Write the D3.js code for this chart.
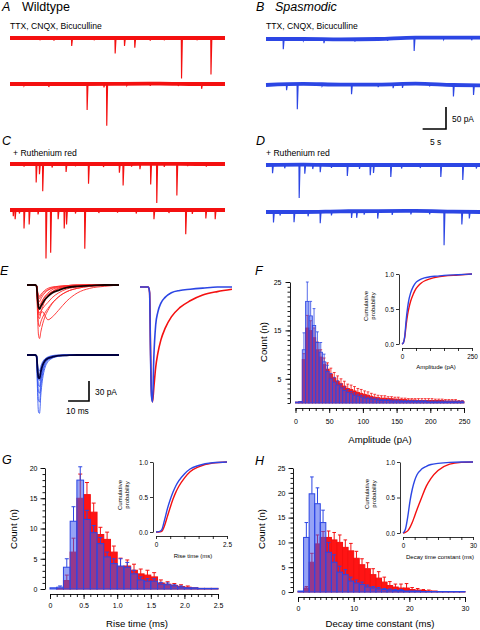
<!DOCTYPE html>
<html>
<head>
<meta charset="utf-8">
<script src="https://cdn.jsdelivr.net/npm/d3@7"></script>
<style>
html,body{margin:0;padding:0;background:#fff;}
svg{display:block;}
</style>
</head>
<body>
<svg id="fig" width="480" height="630"></svg>
<script>
// ================= DATA =================
// Panels A-D : baseline drift (pA) at driftTimes (s) and events [time s, amplitude pA]
const traceSpan = [0, 46];
const driftTimes = [0, 8, 16, 24, 32, 40, 46];
const driftA1 = [0, 0, 0, 0, 0, 0, 0];
const driftA2 = [0, 0, 0, 0.5, 1, 0, 0];
const driftB1 = [0, 0, -1, 0, 3, 3, 3];
const driftB2 = [0, 2.5, 1, 1, 3, 0, -1];
const driftC1 = [0, 0, 0, 0, 0.5, 0, 0];
const driftC2 = [0, 0, 0, 0, 0, 0, 0];
const driftD1 = [0, 1, 0, 0, 0, 0, 0];
const driftD2 = [0, 0, 1.5, 2, 2.5, 1, 0];

const eventsA1 = [[6.4,5],[9.4,6],[13.2,18],[18,5],[22.5,35],[24.5,18],[26.7,22],[30,6],[33,5],[36.7,92],[40,5],[43.0,83]];
const eventsA2 = [[3,4],[8.3,7],[16.5,59],[20.1,8],[20.7,95],[25,4],[30,5],[36,5],[41.0,11]];
const eventsB1 = [[3.7,23],[8,4],[12.4,9],[19,5],[26,5],[31.7,30],[38,4],[44,6]];
const eventsB2 = [[4.4,13],[6.7,57],[12,4],[18.3,22],[24,6],[27.2,9],[29.2,9],[35,5],[40.1,26],[44.4,22]];
const eventsC1 = [[3,6],[5.6,42],[6.3,23],[7.0,62],[9,8],[12.0,18],[14,5],[16.8,45],[20,7],[23.4,20],[24.2,49],[26,6],[27.8,12],[30.1,47],[31.4,89],[33,7],[35.7,72],[38,5],[42,6]];
const eventsC2 = [[0.7,14],[1.1,21],[2,8],[3.0,42],[4.1,33],[6,10],[7.7,110],[8.7,97],[10.3,21],[11.6,42],[12.1,33],[14,8],[16.0,88],[19,7],[23,6],[27,8],[30.8,21],[34,7],[37.6,55],[39,9],[41.9,19],[43.9,21]];
const eventsD1 = [[1.4,19],[4,8],[7.1,76],[8.3,21],[10,10],[11.6,17],[14,7],[17.4,25],[20,9],[22.3,23],[23.0,18],[26.7,27],[29,8],[33,7],[37.4,27],[42.1,34],[45,8]];
const eventsD2 = [[1.6,24],[3,8],[6.0,23],[9,10],[11.6,26],[14,9],[18.3,15],[19.4,15],[21,8],[23.9,17],[27,9],[31,8],[35,7],[38.1,77],[41.9,29],[43.5,15]];

// Panel E : averaged miniature currents (pA) sampled at eTimes (ms)
const eTimes = [0, 4.0, 4.6, 5.0, 5.5, 6.0, 6.6, 7.5, 8.5, 10, 12, 15, 19, 24, 30, 37, 44];
const redMinis = [
  [0,0,-4,-40,-75,-80,-70,-58,-48,-38,-28,-18,-10,-5,-2,-1,0],
  [0,0,-3,-30,-58,-62,-55,-48,-42,-35,-27,-18,-10,-5,-2,0,0],
  [0,0,-3,-28,-48,-50,-42,-32,-24,-16,-10,-5,-2,-1,0,0,0],
  [0,0,-2,-20,-40,-45,-42,-40,-45,-52,-48,-38,-24,-12,-5,-2,0],
  [0,0,-2,-20,-38,-42,-39,-35,-31,-26,-19,-12,-6,-3,-1,0,0],
  [0,0,-2,-18,-32,-35,-30,-23,-17,-12,-7,-4,-2,-1,0,0,0],
  [0,0,-2,-15,-27,-30,-27,-22,-18,-14,-10,-6,-3,-1,0,0,0],
  [0,0,-1,-12,-22,-25,-21,-16,-12,-8,-5,-3,-1,0,0,0,0],
  [0,0,-1,-10,-18,-20,-17,-13,-10,-7,-4,-2,-1,0,0,0,0],
  [0,0,-1,-8,-15,-17,-14,-11,-8,-5,-3,-2,-1,0,0,0,0]
];
const redMean = [0,0,-2,-18,-33,-36,-32,-27,-22,-17,-12,-8,-4,-2,-1,0,0];
const blueMinis = [
  [0,0,-5,-50,-85,-87,-60,-35,-20,-10,-5,-2,-1,0,0,0,0],
  [0,0,-4,-40,-68,-70,-48,-28,-16,-8,-4,-2,0,0,0,0,0],
  [0,0,-3,-32,-55,-57,-40,-24,-13,-7,-3,-1,0,0,0,0,0],
  [0,0,-3,-26,-45,-47,-34,-20,-11,-6,-3,-1,0,0,0,0,0],
  [0,0,-2,-20,-36,-38,-27,-16,-9,-5,-2,-1,0,0,0,0,0],
  [0,0,-2,-16,-28,-30,-22,-13,-7,-4,-2,-1,0,0,0,0,0],
  [0,0,-1,-12,-22,-24,-17,-10,-6,-3,-1,0,0,0,0,0,0]
];
const blueMean = [0,0,-2,-20,-34,-35,-25,-15,-9,-5,-3,-1,-0.5,0,0,0,0];
const redScaled  = [0,0,-0.05,-0.5,-0.92,-1,-0.88,-0.7,-0.58,-0.46,-0.36,-0.26,-0.18,-0.12,-0.07,-0.04,-0.02];
const blueScaled = [0,0,-0.05,-0.55,-0.95,-1,-0.62,-0.33,-0.22,-0.14,-0.09,-0.05,-0.03,-0.02,-0.01,0,0];

// Panel F : amplitude histogram, 5 pA bins from 0 to 250
const ampRed = [0.2,0.3,9,15.5,15,13.5,11,9.5,8,7,6,5.2,4.5,4,3.5,3,2.8,2.5,2.2,2,1.8,1.6,1.4,1.2,1.1,1.0,1.0,0.9,0.9,0.8,0.8,0.7,0.7,0.6,0.6,0.6,0.5,0.5,0.5,0.5,0.5,0.5,0.5,0.5,0.4,0.4,0.4,0.4,0.3,0.3];
const ampRedErr = [0,0,1.2,2.6,2,2,1.6,1.5,1.3,1.3,1.2,1.1,1.1,1.0,1.0,0.9,0.9,0.9,0.8,0.8,0.7,0.7,0.6,0.6,0.5,0.5,0.5,0.4,0.4,0.4,0.4,0.3,0.3,0.3,0.3,0.3,0.4,0.4,0.4,0.4,0.4,0.3,0.3,0.3,0.3,0.3,0.3,0.3,0.2,0.2];
const ampBlue = [0.2,0.3,11,21,18,16,12.5,10.5,8.5,6.5,5,4.3,3.7,3.1,2.6,2.2,1.9,1.6,1.4,1.2,1.0,0.9,0.8,0.7,0.6,0.5,0.5,0.5,0.4,0.4,0.4,0.3,0.3,0.3,0.3,0.3,0.3,0.3,0.3,0.2,0.2,0.2,0.2,0.2,0.2,0.2,0.2,0.2,0.2,0.2];
const ampBlueErr = [0,0,3.5,4,3,3.5,2.2,2,1.6,1.3,1.1,1,0.9,0.8,0.7,0.6,0.5,0.5,0.4,0.4,0.4,0.3,0.3,0.3,0.3,0.2,0.2,0.2,0.2,0.2,0.2,0.2,0.2,0.2,0.2,0.2,0.2,0.2,0.2,0.2,0.2,0.2,0.2,0.2,0.2,0.2,0.2,0.2,0.2,0.2];
const ampCumX = [0,5,10,15,20,25,30,40,50,60,70,80,100,125,150,200,250];
const ampCumBlue = [0,0.02,0.12,0.35,0.52,0.64,0.72,0.82,0.88,0.91,0.93,0.945,0.96,0.97,0.98,0.99,1];
const ampCumRed  = [0,0.02,0.1,0.28,0.42,0.52,0.6,0.71,0.79,0.84,0.875,0.9,0.93,0.955,0.97,0.985,1];

// Panel G : rise time histogram, 0.1 ms bins from 0 to 2.5
const riseRed = [0,0.1,1.4,6.1,15,15.6,12.7,9,8.2,6.1,3.7,3.8,3.1,2.5,2.3,2.0,1.0,0.8,0.6,0.4,0.3,0.2,0.1,0.1,0.1];
const riseRedErr = [0,0.1,0.9,2.3,4,2,1.5,1.2,1.2,1.0,1.4,1.0,1.0,0.8,0.8,0.7,0.5,0.4,0.3,0.3,0.2,0.1,0.1,0.1,0.1];
const riseBlue = [0.2,0.3,3.6,11.2,18,11.5,9.3,7.5,5.3,4.2,3.8,3.6,2.5,1.5,1.3,1.3,0.8,0.7,0.5,0.3,0.2,0.2,0.1,0.1,0.1];
const riseBlueErr = [0.1,0.2,1.4,2.4,2.2,1.5,1.2,1.0,0.8,0.8,1.2,0.8,0.6,0.5,0.4,0.4,0.3,0.3,0.2,0.2,0.1,0.1,0.1,0.1,0.1];
const riseCumX = [0,0.1,0.2,0.3,0.4,0.5,0.6,0.7,0.8,1.0,1.2,1.5,2.0,2.5];
const riseCumBlue = [0,0.005,0.03,0.17,0.33,0.46,0.57,0.66,0.73,0.83,0.9,0.95,0.99,1];
const riseCumRed  = [0,0,0.01,0.09,0.22,0.35,0.47,0.57,0.65,0.77,0.86,0.93,0.985,1];

// Panel H : decay time constant histogram, 1 ms bins from 0 to 30
const decayRed = [0.1,0.8,6,9.7,11,11,10.5,10,9,8.3,6.8,5.5,4.7,3.5,2.8,2.0,1.3,1.0,0.8,0.8,0.5,0.4,0.3,0.2,0.2,0.1,0.1,0.1,0.1,0.1];
const decayRedErr = [0.1,0.3,1.8,1.8,1.2,1.3,1.5,1.5,1.5,1.5,1.4,1.2,1.2,1.2,1.3,1.0,0.8,0.6,0.8,0.9,0.4,0.3,0.2,0.2,0.1,0.1,0.1,0.1,0.1,0.1];
const decayBlue = [0.2,11,19.8,17.8,14,8,6,4,3.5,2.2,1.8,1.5,1,0.8,0.6,0.5,0.4,0.3,0.3,0.2,0.2,0.2,0.1,0.1,0.1,0.1,0.1,0.1,0.1,0.1];
const decayBlueErr = [0.1,3,3.4,3.2,2.5,2,1.5,1.2,1.0,0.8,0.6,0.5,0.4,0.3,0.3,0.2,0.2,0.2,0.2,0.1,0.1,0.1,0.1,0.1,0.1,0.1,0.1,0.1,0.1,0.1];
const decayCumX = [0,1,2,3,4,5,6,8,10,12,15,20,25,30];
const decayCumBlue = [0,0.05,0.22,0.45,0.62,0.74,0.82,0.9,0.94,0.965,0.98,0.995,1,1];
const decayCumRed  = [0,0.01,0.03,0.08,0.15,0.24,0.33,0.5,0.66,0.77,0.88,0.97,0.995,1];

// Tick labels
const ampYTicks = [5, 15, 25];
const ampXTicks = [0, 50, 100, 150, 200, 250];
const riseYTicks = [0, 5, 10, 15, 20];
const riseXTicks = [0, 0.5, 1.0, 1.5, 2.0, 2.5];
const riseXLabels = ['0', '0.5', '1.0', '1.5', '2.0', '2.5'];
const decayYTicks = [0, 5, 10, 15, 20, 25];
const decayXTicks = [0, 10, 20, 30];
const cumYTicks = [0, 0.5, 1];
const cumYLabels = ['0.0', '0.5', '1.0'];

// ================= DRAWING =================
const svg = d3.select('#fig');
const FONT = '"Liberation Sans", Arial, Helvetica, sans-serif';
const RED = '#f41010', BLUE = '#2c46e4';
const RED_FILL = '#ff1414', BLUE_FILL = 'rgba(62,88,238,0.55)';

function label(x, y, s, size, o = {}) {
  const t = svg.append('text').attr('x', x).attr('y', y).text(s)
    .attr('font-family', FONT).attr('font-size', size).attr('fill', '#000');
  if (o.italic) t.attr('font-style', 'italic');
  if (o.anchor) t.attr('text-anchor', o.anchor);
  if (o.rotate) t.attr('transform', `rotate(-90 ${x} ${y})`);
  return t;
}

// ---- Panels A-D traces ----
function drawTrace(x0, x1, y0, drift, events, color) {
  const xs = d3.scaleLinear().domain(traceSpan).range([x0, x1]);
  const ys = d3.scaleLinear().domain([0, -100]).range([y0, y0 + 44]);
  const base = d3.scaleLinear().domain(driftTimes).range(drift);
  const g = svg.append('g');
  const ln = d3.line().x(d => xs(d[0])).y(d => ys(d[1]));
  events.forEach(([t, a]) => {
    const b = base(t);
    g.append('path')
      .attr('d', ln([[t - 0.05, b], [t, b - a], [t + 0.18, b]]))
      .attr('fill', 'none').attr('stroke', color).attr('stroke-width', 1.15);
  });
  g.append('path').datum(driftTimes.map((t, i) => [t, drift[i]]))
    .attr('d', ln.curve(d3.curveMonotoneX))
    .attr('fill', 'none').attr('stroke', color).attr('stroke-width', 3.8);
  return { xs, ys };
}

label(2, 11, 'A', 12.5, { italic: true });
label(22, 11, 'Wildtype', 12.5);
label(10, 29, 'TTX, CNQX, Bicuculline', 8.6);
drawTrace(10, 225, 38, driftA1, eventsA1, RED);
drawTrace(10, 225, 84, driftA2, eventsA2, RED);

label(256, 11, 'B', 12.5, { italic: true });
label(275, 11, 'Spasmodic', 12.5, { italic: true });
label(266, 29, 'TTX, CNQX, Bicuculline', 8.6);
const tb = drawTrace(266, 481, 39, driftB1, eventsB1, BLUE);
drawTrace(266, 481, 85, driftB2, eventsB2, BLUE);

// scale bar B
{
  const sx = 446, sy = 129;
  const w = tb.xs(5) - tb.xs(0), h = tb.ys(-50) - tb.ys(0);
  svg.append('path').attr('d', `M${sx - w},${sy}H${sx}V${sy - h}`)
    .attr('fill', 'none').attr('stroke', '#000').attr('stroke-width', 1.6);
  label(452, 122, '50 pA', 8.4);
  label(430, 145, '5 s', 8.4);
}

label(2, 144.5, 'C', 12.5, { italic: true });
label(13, 156, '+ Ruthenium red', 8.6);
drawTrace(10, 225, 164, driftC1, eventsC1, RED);
drawTrace(10, 225, 210, driftC2, eventsC2, RED);

label(256, 144.5, 'D', 12.5, { italic: true });
label(266, 156, '+ Ruthenium red', 8.6);
drawTrace(266, 481, 165, driftD1, eventsD1, BLUE);
drawTrace(266, 481, 212, driftD2, eventsD2, BLUE);

// ---- Panel E ----
label(0, 275, 'E', 12.5, { italic: true });
{
  const ex = d3.scaleLinear().domain([0, 44]).range([27, 119]);
  const eyR = d3.scaleLinear().domain([0, -100]).range([285, 352]);
  const eyB = d3.scaleLinear().domain([0, -100]).range([355, 422]);
  const lnR = d3.line().x((d, i) => ex(eTimes[i])).y(d => eyR(d)).curve(d3.curveMonotoneX);
  const lnB = d3.line().x((d, i) => ex(eTimes[i])).y(d => eyB(d)).curve(d3.curveMonotoneX);
  const g = svg.append('g').attr('fill', 'none');
  redMinis.forEach(tr => g.append('path').attr('d', lnR(tr)).attr('stroke', '#ff2a2a').attr('stroke-width', 0.9));
  g.append('path').attr('d', lnR(redMean)).attr('stroke', '#1a0000').attr('stroke-width', 1.8);
  blueMinis.forEach(tr => g.append('path').attr('d', lnB(tr)).attr('stroke', '#3a5af2').attr('stroke-width', 0.9));
  g.append('path').attr('d', lnB(blueMean)).attr('stroke', '#000040').attr('stroke-width', 1.8);

  // scale bar
  const w = ex(10) - ex(0), h = eyR(-30) - eyR(0);
  svg.append('path').attr('d', `M${89 - w},401H89V${401 - h}`)
    .attr('fill', 'none').attr('stroke', '#000').attr('stroke-width', 1.6);
  label(95, 395, '30 pA', 8.4);
  label(66, 414, '10 ms', 8.4);

  // overlay (scaled)
  const ox = d3.scaleLinear().domain([0, 44]).range([140, 232]);
  const oy = d3.scaleLinear().domain([0, -1]).range([287, 402]);
  const lnO = d3.line().x((d, i) => ox(eTimes[i])).y(d => oy(d)).curve(d3.curveMonotoneX);
  g.append('path').attr('d', lnO(redScaled)).attr('stroke', RED).attr('stroke-width', 1.6);
  g.append('path').attr('d', lnO(blueScaled)).attr('stroke', BLUE).attr('stroke-width', 1.6);
}

// ---- histogram helper ----
function drawHist(p) {
  const g = svg.append('g');
  const x = d3.scaleLinear().domain(p.xd).range(p.xr);
  const y = d3.scaleLinear().domain(p.yd).range(p.yr);
  function bars(vals, errs, fill, stroke) {
    g.append('g').selectAll('rect').data(vals).join('rect')
      .attr('x', (d, i) => x(i * p.bin)).attr('width', (d, i) => x((i + 1) * p.bin) - x(i * p.bin))
      .attr('y', d => y(d)).attr('height', d => y(0) - y(d))
      .attr('fill', fill).attr('stroke', stroke).attr('stroke-width', p.sw);
    const eg = g.append('g').attr('stroke', stroke).attr('stroke-width', p.sw).attr('fill', 'none');
    vals.forEach((d, i) => {
      const e = errs[i];
      if (!e || e < 0.15) return;
      const cx = x((i + 0.5) * p.bin), y1 = y(d), y2 = y(d + e);
      eg.append('path').attr('d', `M${cx},${y1}V${y2}M${cx - p.cap},${y2}H${cx + p.cap}`);
    });
  }
  bars(p.red, p.redErr, RED_FILL, RED);
  bars(p.blue, p.blueErr, BLUE_FILL, BLUE);

  // y axis
  const minorY = d3.range(p.yd[0], p.yd[1] + 1e-6, p.yMinor);
  const ay1 = g.append('g').attr('transform', `translate(${p.axX},0)`)
    .call(d3.axisLeft(y).tickValues(minorY).tickSize(2.5).tickSizeOuter(0).tickFormat(''));
  ay1.select('.domain').remove();
  const ay2 = g.append('g').attr('transform', `translate(${p.axX},0)`)
    .call(d3.axisLeft(y).tickValues(p.yTicks).tickSize(4.5).tickSizeOuter(0).tickPadding(p.yPad).tickFormat(d3.format('d')));
  ay2.attr('font-size', 7).attr('font-family', FONT);
  // x axis
  const minorX = d3.range(p.xd[0], p.xd[1] + 1e-6, p.xMinor);
  const ax1 = g.append('g').attr('transform', `translate(0,${p.axY})`)
    .call(d3.axisBottom(x).tickValues(minorX).tickSize(3).tickSizeOuter(0).tickFormat(''));
  ax1.select('.domain').remove();
  const ax2 = g.append('g').attr('transform', `translate(0,${p.axY})`)
    .call(d3.axisBottom(x).tickValues(p.xTicks).tickSize(5).tickSizeOuter(0).tickPadding(p.xPad)
      .tickFormat((d, i) => p.xLabels[i]));
  ax2.attr('font-size', 7).attr('font-family', FONT);
  [ay1, ay2, ax1, ax2].forEach(a => a.selectAll('line,path').attr('stroke-width', 0.9));
}

function drawInset(p) {
  const g = svg.append('g');
  const x = d3.scaleLinear().domain(p.xd).range(p.xr);
  const y = d3.scaleLinear().domain([0, 1]).range(p.yr);
  const ln = d3.line().x((d, i) => x(p.cx[i])).y(d => y(d)).curve(d3.curveMonotoneX);
  g.append('path').attr('d', ln(p.red)).attr('fill', 'none').attr('stroke', RED).attr('stroke-width', 1.4);
  g.append('path').attr('d', ln(p.blue)).attr('fill', 'none').attr('stroke', BLUE).attr('stroke-width', 1.4);
  const ay = g.append('g').attr('transform', `translate(${p.axX},0)`)
    .call(d3.axisLeft(y).tickValues(cumYTicks).tickSize(3).tickSizeOuter(0).tickPadding(2)
      .tickFormat((d, i) => cumYLabels[i]));
  const ax = g.append('g').attr('transform', `translate(0,${p.axY})`)
    .call(d3.axisBottom(x).tickValues(p.xTicks).tickSize(3).tickSizeOuter(0).tickPadding(3)
      .tickFormat((d, i) => p.xLabels[i]));
  [ay, ax].forEach(a => {
    a.attr('font-size', 6.4).attr('font-family', FONT);
    a.selectAll('line,path').attr('stroke-width', 0.8);
  });
  label(p.titleX, p.titleY, p.title, 6, { anchor: 'middle' });
  const t = svg.append('text').attr('font-family', FONT).attr('font-size', 6).attr('text-anchor', 'middle')
    .attr('transform', `translate(${p.cumX},${p.cumY}) rotate(-90)`);
  t.append('tspan').attr('x', 0).attr('y', 0).text('Cumulative');
  t.append('tspan').attr('x', 0).attr('y', 6.5).text('probability');
}

// ---- Panel F ----
label(255, 275, 'F', 12.5, { italic: true });
drawHist({
  xd: [0, 250], xr: [295.5, 464], yd: [0, 25], yr: [403, 282], axX: 290, axY: 408,
  bin: 5, sw: 0.8, cap: 1.4,
  red: ampRed, redErr: ampRedErr, blue: ampBlue, blueErr: ampBlueErr,
  yTicks: ampYTicks, yMinor: 1, yPad: 4,
  xTicks: ampXTicks, xLabels: ampXTicks.map(String), xMinor: 10, xPad: 6
});
label(267, 342, 'Count (n)', 9.6, { anchor: 'middle', rotate: true });
label(380, 443, 'Amplitude (pA)', 9.6, { anchor: 'middle' });
drawInset({
  xd: [0, 250], xr: [402, 472], yr: [344, 274], axX: 399, axY: 348,
  cx: ampCumX, blue: ampCumBlue, red: ampCumRed,
  xTicks: [0, 50, 100, 150, 200, 250], xLabels: ['0', '', '', '', '', '250'],
  title: 'Amplitude (pA)', titleX: 436, titleY: 369, cumX: 368, cumY: 306
});

// ---- Panel G ----
label(2, 464, 'G', 12.5, { italic: true });
drawHist({
  xd: [0, 2.5], xr: [50, 218], yd: [0, 20], yr: [589, 468], axX: 45, axY: 594,
  bin: 0.1, sw: 1, cap: 2,
  red: riseRed, redErr: riseRedErr, blue: riseBlue, blueErr: riseBlueErr,
  yTicks: riseYTicks, yMinor: 1, yPad: 3,
  xTicks: riseXTicks, xLabels: riseXLabels, xMinor: 0.1, xPad: 4
});
label(17, 529, 'Count (n)', 9.6, { anchor: 'middle', rotate: true });
label(137, 627, 'Rise time (ms)', 9.6, { anchor: 'middle' });
drawInset({
  xd: [0, 2.5], xr: [156, 227], yr: [532, 462], axX: 153, axY: 536,
  cx: riseCumX, blue: riseCumBlue, red: riseCumRed,
  xTicks: [0, 0.5, 1.0, 1.5, 2.0, 2.5], xLabels: ['0', '', '', '', '', '2.5'],
  title: 'Rise time (ms)', titleX: 193, titleY: 558, cumX: 122, cumY: 495
});

// ---- Panel H ----
label(255, 465, 'H', 12.5, { italic: true });
drawHist({
  xd: [0, 30], xr: [298, 465], yd: [0, 25], yr: [592, 468], axX: 293, axY: 597,
  bin: 1, sw: 1, cap: 1.8,
  red: decayRed, redErr: decayRedErr, blue: decayBlue, blueErr: decayBlueErr,
  yTicks: decayYTicks, yMinor: 1, yPad: 3,
  xTicks: decayXTicks, xLabels: decayXTicks.map(String), xMinor: 1, xPad: 4
});
label(265, 529, 'Count (n)', 9.6, { anchor: 'middle', rotate: true });
label(380, 627, 'Decay time constant (ms)', 9.6, { anchor: 'middle' });
drawInset({
  xd: [0, 30], xr: [403, 473], yr: [533, 462], axX: 400, axY: 537,
  cx: decayCumX, blue: decayCumBlue, red: decayCumRed,
  xTicks: [0, 5, 10, 15, 20, 25, 30], xLabels: ['0', '', '', '', '', '', '30'],
  title: 'Decay time constant (ms)', titleX: 440, titleY: 559, cumX: 369, cumY: 494
});
</script>
</body>
</html>
